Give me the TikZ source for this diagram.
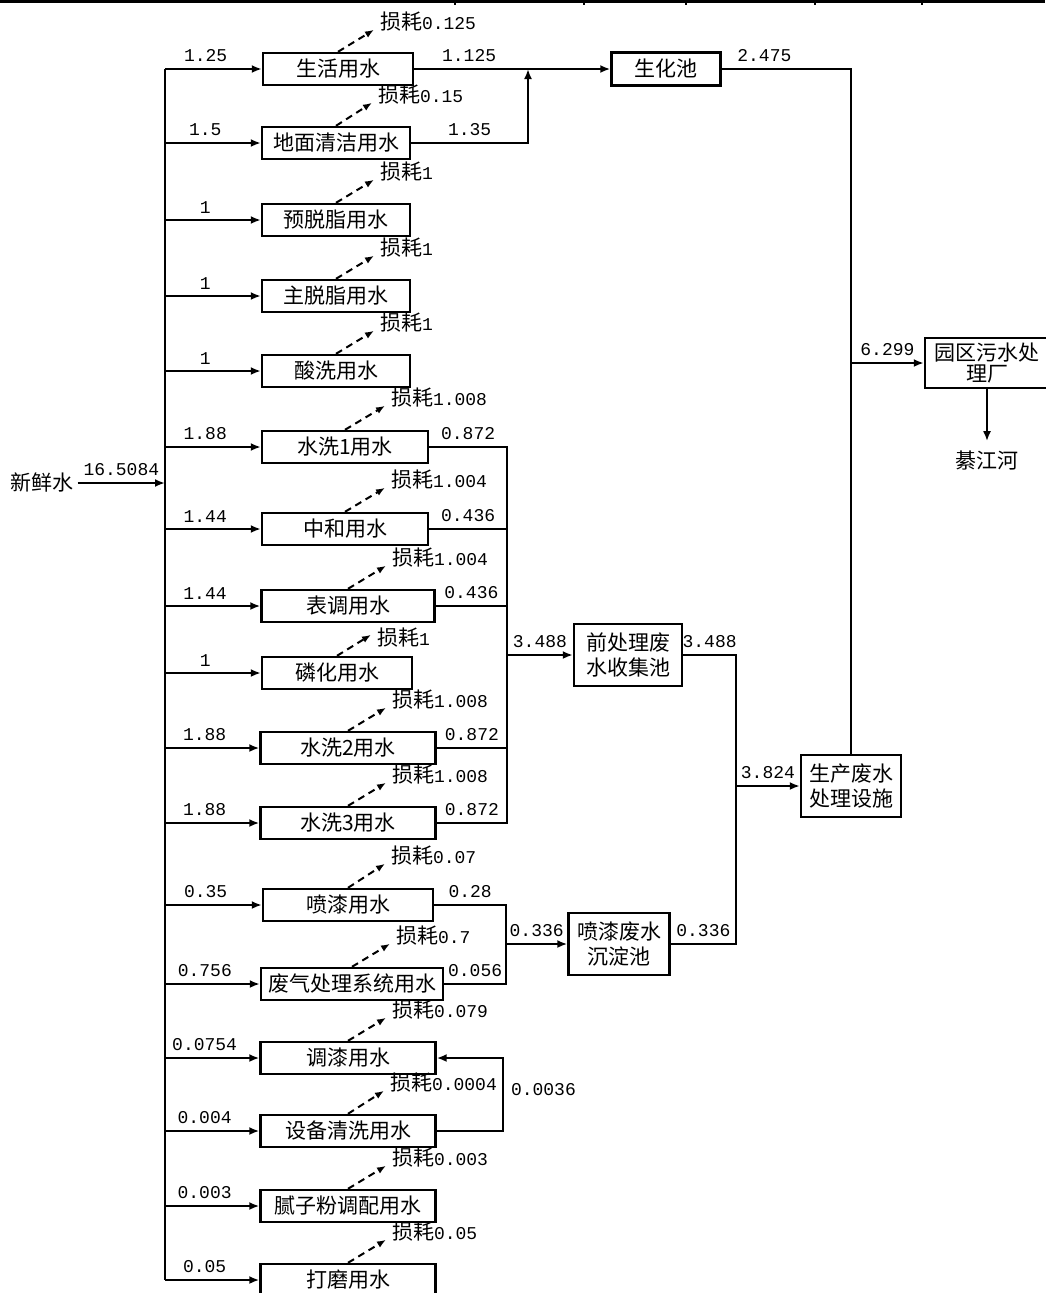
\documentclass[tikz,border=0pt]{standalone}
\usepackage{fontspec}
\setmainfont{Noto Sans CJK SC}
\newfontfamily\numfont{Liberation Mono}
\usetikzlibrary{arrows.meta,calc}
\newcommand\nm[1]{{\numfont\fontsize{18}{18}\selectfont #1}}
\tikzset{
  cn/.style={font=\fontsize{21}{25}\selectfont, inner sep=4pt},
  unit/.style={cn, draw, line width=2.4pt, minimum height=32pt, inner sep=2pt, align=center},
  pool/.style={unit, minimum height=62pt},
  wire/.style={line width=2pt},
  flow/.style={wire, -{Latex[length=10pt,width=8pt]}},
  loss/.style={wire, dash pattern=on 7pt off 5pt, -{Latex[length=9pt,width=7pt]}},
  num/.style={font=\numfont\fontsize{18}{18}\selectfont, inner sep=1pt},
  qty/.style={num, above=5pt},
  lossl/.style={cn, anchor=south west, inner sep=0pt, xshift=5pt, yshift=-2pt},
}

\begin{document}
\begin{tikzpicture}[x=1pt, y=-1pt]
  \useasboundingbox (0,0) rectangle (1045,1293);

  % rule of the table above
  \draw[line width=2.5pt] (0,1.5) -- (1045,1.5);
  \foreach \tx in {455,584,686,815,922} \draw[line width=1.5pt] (\tx,0) -- (\tx,5);

  % fresh water and supply bus
  \node[cn] (xsw) at (42,483) {新鲜水};
  \coordinate (busT) at (165,69);
  \coordinate (busB) at (165,1280);
  \draw[wire] (busT) -- (busB);
  \draw[flow] (xsw) -- (xsw -| busT) node[qty, midway] {16.5084};

  % water users
  \node[unit, minimum width=150pt] (shys) at (338,69) {生活用水};
  \draw[flow] (busT |- shys) -- (shys) node[qty, pos=0.42] {1.25};
  \draw[loss] (shys.north) -- ++(36,-22) node[lossl] {损耗\nm{0.125}};

  \node[unit, minimum width=148pt] (dmqj) at (336,143) {地面清洁用水};
  \draw[flow] (busT |- dmqj) -- (dmqj) node[qty, pos=0.42] {1.5};
  \draw[loss] (dmqj.north) -- ++(36,-23) node[lossl] {损耗\nm{0.15}};

  \node[unit, minimum width=148pt] (ytz) at (336,220) {预脱脂用水};
  \draw[flow] (busT |- ytz) -- (ytz) node[qty, pos=0.42] {1};
  \draw[loss] (ytz.north) -- ++(38,-23) node[lossl] {损耗\nm{1}};

  \node[unit, minimum width=148pt] (ztz) at (336,296) {主脱脂用水};
  \draw[flow] (busT |- ztz) -- (ztz) node[qty, pos=0.42] {1};
  \draw[loss] (ztz.north) -- ++(38,-23) node[lossl] {损耗\nm{1}};

  \node[unit, minimum width=148pt] (sx) at (336,371) {酸洗用水};
  \draw[flow] (busT |- sx) -- (sx) node[qty, pos=0.42] {1};
  \draw[loss] (sx.north) -- ++(38,-23) node[lossl] {损耗\nm{1}};

  \node[unit, minimum width=166pt] (sx1) at (345,447) {水洗1用水};
  \draw[flow] (busT |- sx1) -- (sx1) node[qty, pos=0.42] {1.88};
  \draw[loss] (sx1.north) -- ++(40,-24) node[lossl] {损耗\nm{1.008}};

  \node[unit, minimum width=166pt] (zh) at (345,529) {中和用水};
  \draw[flow] (busT |- zh) -- (zh) node[qty, pos=0.42] {1.44};
  \draw[loss] (zh.north) -- ++(40,-24) node[lossl] {损耗\nm{1.004}};

  \node[unit, minimum width=173pt] (bt) at (348,606) {表调用水};
  \draw[flow] (busT |- bt) -- (bt) node[qty, pos=0.42] {1.44};
  \draw[loss] (bt.north) -- ++(38,-23) node[lossl] {损耗\nm{1.004}};

  \node[unit, minimum width=150pt] (lh) at (337,673) {磷化用水};
  \draw[flow] (busT |- lh) -- (lh) node[qty, pos=0.42] {1};
  \draw[loss] (lh.north) -- ++(34,-21) node[lossl, anchor=west, yshift=-1pt] {损耗\nm{1}};

  \node[unit, minimum width=175pt] (sx2) at (348,748) {水洗2用水};
  \draw[flow] (busT |- sx2) -- (sx2) node[qty, pos=0.42] {1.88};
  \draw[loss] (sx2.north) -- ++(38,-23) node[lossl] {损耗\nm{1.008}};

  \node[unit, minimum width=175pt] (sx3) at (348,823) {水洗3用水};
  \draw[flow] (busT |- sx3) -- (sx3) node[qty, pos=0.42] {1.88};
  \draw[loss] (sx3.north) -- ++(38,-23) node[lossl] {损耗\nm{1.008}};

  \node[unit, minimum width=170pt] (pq) at (348,905) {喷漆用水};
  \draw[flow] (busT |- pq) -- (pq) node[qty, pos=0.42] {0.35};
  \draw[loss] (pq.north) -- ++(37,-24) node[lossl] {损耗\nm{0.07}};

  \node[unit, minimum width=182pt] (fq) at (352,984) {废气处理系统用水};
  \draw[flow] (busT |- fq) -- (fq) node[qty, pos=0.42] {0.756};
  \draw[loss] (fq.north) -- ++(38,-23) node[lossl] {损耗\nm{0.7}};

  \node[unit, minimum width=175pt] (tq) at (348,1058) {调漆用水};
  \draw[flow] (busT |- tq) -- (tq) node[qty, pos=0.42] {0.0754};
  \draw[loss] (tq.north) -- ++(38,-23) node[lossl] {损耗\nm{0.079}};

  \node[unit, minimum width=175pt] (sb) at (348,1131) {设备清洗用水};
  \draw[flow] (busT |- sb) -- (sb) node[qty, pos=0.42] {0.004};
  \draw[loss] (sb.north) -- ++(36,-23) node[lossl] {损耗\nm{0.0004}};

  \node[unit, minimum width=175pt] (nz) at (348,1206) {腻子粉调配用水};
  \draw[flow] (busT |- nz) -- (nz) node[qty, pos=0.42] {0.003};
  \draw[loss] (nz.north) -- ++(38,-23) node[lossl] {损耗\nm{0.003}};

  \node[unit, minimum width=175pt] (dm) at (348,1280) {打磨用水};
  \draw[flow] (busT |- dm) -- (dm) node[qty, pos=0.42] {0.05};
  \draw[loss] (dm.north) -- ++(38,-23) node[lossl] {损耗\nm{0.05}};

  % domestic and floor water to the bio pond
  \node[unit, minimum width=109pt, minimum height=33pt] (shc) at (666,69) {生化池};
  \coordinate (jA) at (528,69);
  \draw[flow] (shys) -- (shc) node[qty, pos=0.28] {1.125};
  \draw[flow] (dmqj) -| node[qty, pos=0.25] {1.35} (jA);

  % pretreatment collection
  \node[pool, minimum width=108pt] (qcl) at (628,655) {前处理废\\水收集池};
  \coordinate (colA) at (507,655);
  \draw[wire] (sx1) -| node[qty, pos=0.25] {0.872} (colA) |- node[qty, pos=0.75] {0.872} (sx3);
  \draw[wire] (zh) -- (zh -| colA) node[qty, midway] {0.436};
  \draw[wire] (bt) -- (bt -| colA) node[qty, midway] {0.436};
  \draw[wire] (sx2) -- (sx2 -| colA) node[qty, midway] {0.872};
  \draw[flow] (colA) -- (qcl) node[qty, midway] {3.488};

  % spray booth settling
  \node[pool, minimum width=101pt] (pqc) at (619,944) {喷漆废水\\沉淀池};
  \coordinate (colC) at (506,944);
  \draw[wire] (pq) -| node[qty, pos=0.25] {0.28} (colC) |- node[qty, pos=0.75] {0.056} (fq);
  \draw[flow] (colC) -- (pqc) node[qty, midway] {0.336};

  % reuse of cleaning water
  \coordinate (colD) at (503,1090);
  \draw[flow] (sb) -| (colD) node[num, right=6pt] {0.0036} |- (tq);

  % production wastewater
  \node[pool, minimum width=100pt] (scfs) at (851,786) {生产废水\\处理设施};
  \coordinate (colB) at (736,786);
  \draw[wire] (qcl) -| node[qty, pos=0.25] {3.488} (colB);
  \draw[wire] (pqc) -| node[qty, pos=0.25] {0.336} (colB);
  \draw[flow] (colB) -- (scfs) node[qty, midway] {3.824};

  % discharge
  \node[unit, minimum width=124pt, minimum height=50pt, font=\fontsize{21}{21}\selectfont] (yq) at (987,363) {园区污水处\\理厂};
  \draw[wire] (shc) -| node[qty, pos=0.165] {2.475} (scfs);
  \draw[flow] (scfs |- yq) -- (yq) node[qty, midway] {6.299};
  \node[cn] (qjh) at (987,461) {綦江河};
  \draw[flow, shorten >=6pt] (yq) -- (qjh);

\end{tikzpicture}
\end{document}
